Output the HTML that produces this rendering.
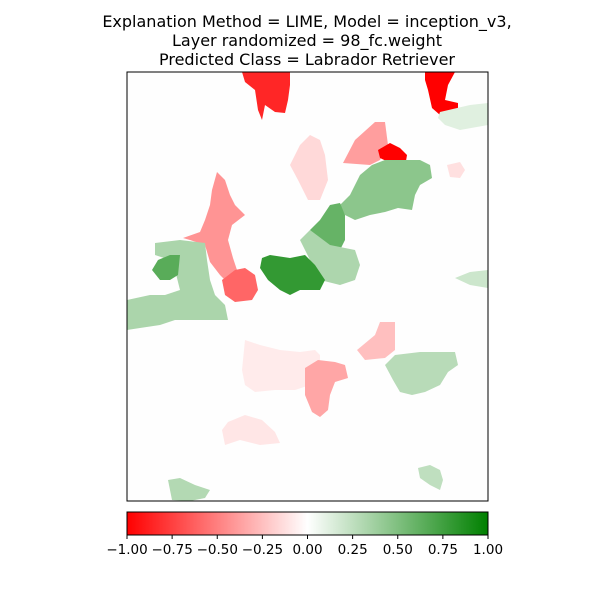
<!DOCTYPE html>
<html><head><meta charset="utf-8"><style>
body{margin:0;background:#fff;font-family:"DejaVu Sans","Liberation Sans",sans-serif}
</style></head><body>
<svg id="c" width="600" height="600" xmlns="http://www.w3.org/2000/svg">
<defs><linearGradient id="g" x1="0" x2="1" y1="0" y2="0">
<stop offset="0" stop-color="#ff0000"/><stop offset="0.5" stop-color="#ffffff"/><stop offset="1" stop-color="#008000"/></linearGradient></defs>
<g font-size="16" text-anchor="middle" fill="#000" font-family="DejaVu Sans, Liberation Sans, sans-serif">
<text x="307" y="27">Explanation Method = LIME, Model = inception_v3,</text>
<text x="307" y="46">Layer randomized = 98_fc.weight</text>
<text x="307" y="65">Predicted Class = Labrador Retriever</text>
</g>
<rect x="127" y="72" width="361" height="429" fill="#fefefe"/>
<g id="segs"></g>
<rect x="127" y="72" width="361" height="429" fill="none" stroke="#000" stroke-width="1"/>
<rect x="127" y="512" width="361" height="23" fill="url(#g)" stroke="#000" stroke-width="1"/>
<g id="ticks" font-size="13.5" text-anchor="middle" font-family="DejaVu Sans, Liberation Sans, sans-serif"></g>
</svg>
<script>
const segValues=[-0.85,-1,0.12,-0.38,-1,-0.15,0.45,0.6,0.32,0.8,-0.42,-0.6,0.33,0.65,0.2,-0.25,0.28,-0.08,-0.35,-0.1,0.25,0.3,-0.12];
const segShapes=[
"242,72 290,72 290,85 288,100 285,113 275,112 265,105 262,120 258,110 255,90 245,82",
"425,72 455,72 448,85 445,100 458,103 458,112 440,115 432,108 428,90 425,80",
"440,112 470,105 488,103 488,125 460,130 445,125 438,118",
"343,163 355,140 375,122 385,122 388,145 380,160 370,165",
"378,150 390,143 400,148 407,155 405,167 395,165 380,158",
"290,165 300,145 310,135 320,140 325,155 328,180 320,200 308,200 298,180",
"360,175 372,165 385,160 400,160 420,160 430,165 432,178 420,185 415,195 412,210 398,208 385,212 370,215 355,220 345,215 340,205 350,195",
"320,220 330,205 340,203 345,215 345,240 340,250 330,250 320,245 310,230",
"300,240 310,230 330,245 355,250 360,265 355,280 340,285 320,280 310,260",
"262,258 270,255 290,258 305,255 315,265 325,280 320,290 300,290 290,295 280,290 268,280 260,268",
"212,190 217,172 225,180 230,195 235,205 245,215 232,225 228,240 233,258 237,270 225,280 220,275 210,262 205,245 190,240 183,238 200,232 205,220 210,205",
"222,280 235,270 245,268 255,275 258,290 252,300 235,302 225,295",
"155,243 180,240 205,243 207,260 210,280 215,295 225,305 228,320 200,320 175,320 160,325 140,328 127,330 127,300 150,295 165,295 180,290 175,270 170,260 155,255",
"152,270 158,260 170,255 180,255 178,275 170,280 160,280",
"455,278 470,272 488,270 488,288 470,285",
"357,350 375,335 380,322 395,322 395,350 385,358 365,360",
"385,365 395,355 420,352 455,352 458,365 448,372 440,385 425,392 412,395 400,392 393,380",
"245,340 260,345 280,350 300,352 315,350 320,355 320,370 310,385 295,390 275,390 255,392 245,385 242,370",
"305,368 318,360 335,362 345,365 348,378 335,382 330,395 328,410 320,417 312,412 305,395",
"222,430 228,422 245,415 262,420 275,432 280,443 260,445 240,440 225,445",
"418,468 430,465 440,470 443,480 440,490 430,485 420,478",
"168,480 180,478 195,485 210,490 205,498 190,501 172,500",
"447,165 460,162 465,170 460,178 450,177"];
const tickValues=[-1,-0.75,-0.5,-0.25,0,0.25,0.5,0.75,1];
const tickLabels=["−1.00","−0.75","−0.50","−0.25","0.00","0.25","0.50","0.75","1.00"];
function color(v){let r,g,b;if(v<0){const t=-v;r=255;g=Math.round(255*(1-t));b=g;}else{const t=v;r=Math.round(255*(1-t));g=Math.round(255-127*t);b=r;}return `rgb(${r},${g},${b})`;}
function cx(v){return 127+(v+1)/2*361;}
const NS="http://www.w3.org/2000/svg";
const sg=document.getElementById('segs');
segValues.forEach((v,i)=>{const p=document.createElementNS(NS,'polygon');p.setAttribute('points',segShapes[i]);p.setAttribute('fill',color(v));


sg.appendChild(p);});
const tg=document.getElementById('ticks');
tickValues.forEach((v,i)=>{const x=cx(v);const l=document.createElementNS(NS,'line');l.setAttribute('x1',x);l.setAttribute('x2',x);l.setAttribute('y1',535);l.setAttribute('y2',539);l.setAttribute('stroke','#000');


tg.appendChild(l);
const t=document.createElementNS(NS,'text');t.setAttribute('x',x);t.setAttribute('y',554);t.textContent=tickLabels[i];


tg.appendChild(t);});
</script>
</body></html>
